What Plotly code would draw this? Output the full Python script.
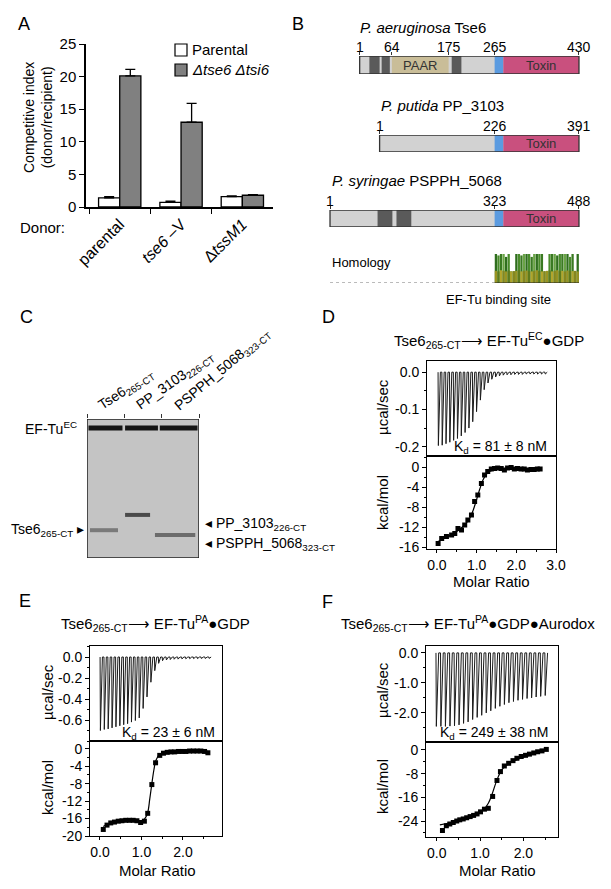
import plotly.graph_objects as go

W, H = 611, 889
FONT = "Liberation Sans, Arial, Helvetica, sans-serif"

# ---------------- Panel A data ----------------
donors = ["parental", "<i>tse6</i> \u2013V", "\u0394<i>tssM1</i>"]
parental_ci = [1.4, 0.7, 1.6]
parental_err = [0.2, 0.2, 0.1]
mutant_ci = [20.1, 13.0, 1.8]
mutant_err = [1.0, 2.9, 0.1]
series_names = ["Parental", "<i>\u0394tse6 \u0394tsi6</i>"]

# ---------------- Panel B data ----------------
tse6_len, tse6_split = 430, 265
tse6_dom_start = [20, 44, 64, 181, 265, 282]
tse6_dom_end = [40, 60, 175, 200, 282, 430]
tse6_dom_kind = ["dark", "dark", "paar", "dark", "link", "toxin"]
tse6_ticks = [1, 64, 175, 265, 430]

pp_len, pp_split = 391, 226
pp_dom_start = [226, 243]
pp_dom_end = [243, 391]
pp_dom_kind = ["link", "toxin"]
pp_ticks = [1, 226, 391]

ps_len, ps_split = 488, 323
ps_dom_start = [94, 131, 323, 340]
ps_dom_end = [123, 160, 340, 488]
ps_dom_kind = ["dark", "dark", "link", "toxin"]
ps_ticks = [1, 323, 488]

hom_bin = 5
hom_identity = [1, .95, 1, 1, .9, 1, .4, .4, 1, 1, .95, 1, 1, 1, .9, 1, 1, 1, 1,
                .4, .4, 1, 1, 1, .95, 1, 1, 1, 1, .9, 1, .4, 1]
hom_similarity = [.42, .4, .44, .42, .4, .43, .4, .41, .42, .44, .4, .42, .43, .41, .4, .42, .44,
                  .42, .4, .41, .42, .43, .4, .42, .44, .41, .42, .4, .43, .42, .41, .42, .4]

# ---------------- Panel C data ----------------
gel_lanes = [0, 1, 2]
eftu_pos = 0.065
eftu_x0 = [0.04, 1.02, 1.95]
eftu_x1 = [0.95, 1.90, 2.96]
target_pos = [0.80, 0.69, 0.835]
target_x0 = [0.08, 1.02, 1.82]
target_x1 = [0.83, 1.69, 2.90]

# ---------------- Panel D data ----------------
d_peaks = [-0.197, -0.196, -0.192, -0.188, -0.183, -0.178, -0.171, -0.162, -0.150, -0.133,
           -0.106, -0.075, -0.047, -0.029, -0.019, -0.013, -0.010, -0.008, -0.007, -0.007,
           -0.006, -0.006, -0.006, -0.005, -0.005, -0.005, -0.005, -0.005, -0.005]
d_ratio = [0.03, 0.12, 0.24, 0.37, 0.45, 0.53, 0.62, 0.70, 0.78, 0.87, 0.95, 1.03, 1.12, 1.20,
           1.28, 1.37, 1.45, 1.53, 1.62, 1.70, 1.78, 1.87, 1.95, 2.03, 2.12, 2.20, 2.28, 2.37,
           2.45, 2.53, 2.60]
d_heat = [-15.3, -14.3, -13.9, -13.6, -13.3, -12.3, -12.6, -11.6, -10.6, -9.6, -6.9, -5.6,
          -3.3, -1.6, -0.9, -0.4, -0.3, -0.2, -0.3, -0.6, -0.2, -0.1, -0.4, -0.3, -0.4, -0.4,
          -0.6, -0.5, -0.5, -0.4, -0.4]
d_fit_x = [0.03, 0.2, 0.4, 0.6, 0.75, 0.85, 0.92, 1.0, 1.08, 1.16, 1.25, 1.35, 1.5, 1.8, 2.6]
d_fit_y = [-14.9, -14.2, -13.4, -12.3, -11.1, -9.9, -8.5, -6.5, -4.4, -2.6, -1.4, -0.8, -0.5,
           -0.4, -0.4]

# ---------------- Panel E data ----------------
e_peaks = [-0.70, -0.69, -0.685, -0.675, -0.665, -0.655, -0.645, -0.635, -0.62, -0.605, -0.58,
           -0.49, -0.38, -0.24, -0.13, -0.06, -0.035, -0.028, -0.024, -0.021, -0.02, -0.018,
           -0.017, -0.016, -0.015, -0.015, -0.014, -0.014, -0.013]
e_ratio = [0.08, 0.17, 0.26, 0.35, 0.44, 0.53, 0.62, 0.71, 0.80, 0.89, 0.98, 1.07, 1.15, 1.25,
           1.34, 1.44, 1.53, 1.62, 1.71, 1.80, 1.89, 1.98, 2.07, 2.16, 2.25, 2.34, 2.43, 2.52,
           2.60]
e_heat = [-18.5, -17.5, -17.0, -16.8, -16.6, -16.5, -16.4, -16.4, -16.4, -16.5, -16.9, -16.6,
          -14.8, -8.2, -3.2, -1.5, -1.0, -0.8, -0.7, -0.7, -0.6, -0.6, -0.6, -0.5, -0.5, -0.5,
          -0.5, -0.6, -0.9]
e_fit_x = [0.08, 0.2, 0.35, 0.5, 0.7, 0.9, 1.0, 1.08, 1.15, 1.2, 1.25, 1.3, 1.35, 1.45, 1.6,
           2.0, 2.6]
e_fit_y = [-17.8, -17.2, -16.9, -16.7, -16.6, -16.6, -16.5, -16.0, -14.6, -11.5, -8.0, -4.8,
           -2.6, -1.2, -0.8, -0.6, -0.6]

# ---------------- Panel F data ----------------
f_peaks = [-2.45, -2.45, -2.45, -2.44, -2.43, -2.40, -2.35, -2.30, -2.22, -2.15, -2.08, -2.00,
           -1.93, -1.85, -1.78, -1.72, -1.66, -1.62, -1.58, -1.55, -1.52, -1.50, -1.47, -1.45,
           -1.42]
f_ratio = [0.13, 0.22, 0.30, 0.38, 0.46, 0.53, 0.61, 0.69, 0.77, 0.85, 0.93, 1.01, 1.10, 1.19,
           1.29, 1.39, 1.47, 1.56, 1.66, 1.76, 1.85, 1.95, 2.05, 2.14, 2.24, 2.33, 2.43, 2.53]
f_heat = [-27.2, -25.6, -25.0, -24.5, -24.0, -23.6, -23.3, -22.9, -22.5, -22.1, -21.6, -20.9,
          -20.0, -19.7, -15.7, -10.3, -7.3, -5.4, -4.5, -3.6, -2.8, -2.2, -1.8, -1.4, -1.0,
          -0.6, -0.3, 0.2]
f_fit_x = [0.07, 0.3, 0.6, 0.9, 1.08, 1.19, 1.27, 1.39, 1.5, 1.62, 1.8, 2.0, 2.2, 2.4, 2.53]
f_fit_y = [-25.3, -24.6, -23.4, -21.9, -20.2, -18.0, -15.2, -10.1, -6.7, -5.1, -3.6, -2.4,
           -1.5, -0.6, 0.1]


# ---------------- helpers ----------------
def dx(a, b):
    return [a / W, b / W]


def dy(top, bottom):
    return [1 - bottom / H, 1 - top / H]


def px(x):
    return x / W


def py(y):
    return 1 - y / H


annotations = []
shapes = []


def ann(text, x, y, size=14, xanchor="center", yanchor="middle", angle=0, color="black",
        xref="paper", yref="paper"):
    annotations.append(dict(
        text=text, x=px(x) if xref == "paper" else x, y=py(y) if yref == "paper" else y,
        xref=xref, yref=yref, showarrow=False, xanchor=xanchor, yanchor=yanchor,
        textangle=angle, font=dict(size=size, color=color, family=FONT)))


fig = go.Figure()
layout = dict(
    width=W, height=H, margin=dict(l=0, r=0, t=0, b=0, pad=0, autoexpand=False),
    paper_bgcolor="white", plot_bgcolor="white",
    font=dict(family=FONT, color="black", size=14),
    barmode="overlay", showlegend=False,
)
noax = dict(visible=False, showgrid=False, zeroline=False)

# ---------------- Panel A ----------------
A_FILL = ["white", "#808080"]
for name, vals, errs, fill, off in zip(series_names, [parental_ci, mutant_ci],
                                       [parental_err, mutant_err], A_FILL, [-0.345, 0]):
    fig.add_trace(go.Bar(x=donors, y=vals, offset=off, width=0.345, name=name,
                         marker=dict(color=fill, line=dict(color="black", width=1.3)),
                         error_y=dict(type="data", symmetric=False, array=errs,
                                      arrayminus=[0] * len(errs), color="black",
                                      thickness=1.3, width=5),
                         xaxis="x", yaxis="y"))
layout["xaxis"] = dict(domain=dx(86, 273), range=[-0.55, 2.5], type="category",
                       tickson="boundaries", ticks="outside", ticklen=5, tickcolor="black",
                       showline=True, linecolor="black", linewidth=1.5, showgrid=False,
                       zeroline=False, tickangle=-45, tickfont=dict(size=16), anchor="y")
layout["yaxis"] = dict(domain=dy(44, 207), range=[0, 25], dtick=5, ticks="outside", ticklen=5,
                       tickcolor="black", showline=True, linecolor="black", linewidth=1.5,
                       showgrid=False, zeroline=False, tickfont=dict(size=15), anchor="x")
ann("A", 24, 24, 18)
ann("Competitive index<br>(donor/recipient)", 38, 118, 14, angle=-90)
ann("Donor:", 18, 227, 15, xanchor="left")
# legend (key boxes + labels)
for i, (name, fill) in enumerate(zip(series_names, A_FILL)):
    yc = 50 + 20 * i
    shapes.append(dict(type="rect", xref="paper", yref="paper", x0=px(175), x1=px(187),
                       y0=py(yc + 6), y1=py(yc - 6), fillcolor=fill,
                       line=dict(color="black", width=1.2)))
    ann(name, 190, yc, 15, xanchor="left")

# ---------------- Panel B ----------------
C_LIGHT, C_DARK, C_PAAR, C_LINK, C_TOX = "#d2d2d2", "#5a5a5a", "#c9bd98", "#5b9be0", "#c9507e"
kind_color = {"dark": C_DARK, "paar": C_PAAR, "link": C_LINK, "toxin": C_TOX}
xB = dict(domain=dx(329, 580), range=[-324, 167], showgrid=False, zeroline=False,
          showline=False)
rows = [
    ("2", 56, 74, tse6_len, tse6_split, tse6_dom_start, tse6_dom_end, tse6_dom_kind, tse6_ticks),
    ("3", 135, 152, pp_len, pp_split, pp_dom_start, pp_dom_end, pp_dom_kind, pp_ticks),
    ("4", 210, 227, ps_len, ps_split, ps_dom_start, ps_dom_end, ps_dom_kind, ps_ticks),
]
for k, top, bot, length, split, starts, ends, kinds, ticks in rows:
    xa, ya = "x" + k, "y" + k
    fig.add_trace(go.Bar(y=[0], x=[length - 1], base=[1 - split], orientation="h", width=1,
                         marker=dict(color=C_LIGHT, line=dict(width=0)), showlegend=False,
                         cliponaxis=False, xaxis=xa, yaxis=ya, hoverinfo="skip"))
    for s, e, kd in zip(starts, ends, kinds):
        fig.add_trace(go.Bar(y=[0], x=[e - s], base=[s - split], orientation="h", width=1,
                             marker=dict(color=kind_color[kd], line=dict(width=0)),
                             showlegend=False, cliponaxis=False, xaxis=xa, yaxis=ya,
                             hoverinfo="skip"))
        if kd == "paar":
            ann("PAAR", (s + e) / 2 - split, 0, 13, xref=xa, yref=ya, color="#333333")
        if kd == "toxin":
            ann("Toxin", (s + e) / 2 - split, 0, 13, xref=xa, yref=ya, color="#333333")
    fig.add_trace(go.Bar(y=[0], x=[length - 1], base=[1 - split], orientation="h", width=1,
                         marker=dict(color="rgba(0,0,0,0)", line=dict(color="#333333", width=1.3)),
                         showlegend=False, cliponaxis=False, xaxis=xa, yaxis=ya,
                         hoverinfo="skip"))
    layout["xaxis" + k] = dict(xB, side="top", anchor=ya, tickmode="array",
                               tickvals=[t - split for t in ticks], showticklabels=False,
                               ticks="outside", ticklen=3, tickcolor="#333333")
    layout["yaxis" + k] = dict(noax, domain=dy(top, bot), range=[-0.5, 0.5], anchor=xa)
    for t in ticks:
        ann(str(t), t - split, top + 1, 14, yanchor="bottom", xref=xa)

ann("<i>P. aeruginosa</i> Tse6", 358, 28, 15, xanchor="left")
ann("<i>P. putida</i> PP_3103", 379, 105, 15, xanchor="left")
ann("<i>P. syringae</i> PSPPH_5068", 330, 180, 15, xanchor="left")
ann("B", 298, 24, 18)

# homology
hom_x = [hom_bin * (i + 0.5) for i in range(len(hom_identity))]
greens = ["#2f6e1e", "#4a8c2c", "#3a7a22", "#6aa446"]
yellows = ["#9a9422", "#5f7a1c", "#b2a52c", "#86861e"]
fig.add_trace(go.Bar(x=hom_x, y=hom_identity, width=hom_bin * 0.9,
                     marker=dict(color=[greens[i % 4] for i in range(len(hom_x))],
                                 line=dict(width=0)),
                     showlegend=False, xaxis="x5", yaxis="y5", hoverinfo="skip"))
fig.add_trace(go.Bar(x=hom_x, y=hom_similarity, width=hom_bin * 0.9,
                     marker=dict(color=[yellows[i % 4] for i in range(len(hom_x))],
                                 line=dict(width=0)),
                     showlegend=False, xaxis="x5", yaxis="y5", hoverinfo="skip"))
fig.add_trace(go.Scatter(x=[1 - ps_split, 0], y=[0, 0], mode="lines",
                         line=dict(color="#777777", width=1.2, dash="dot"),
                         showlegend=False, xaxis="x5", yaxis="y5", hoverinfo="skip"))
fig.add_trace(go.Scatter(x=[0, ps_len - ps_split], y=[0, 0], mode="lines",
                         line=dict(color="#222222", width=1.2),
                         showlegend=False, xaxis="x5", yaxis="y5", hoverinfo="skip"))
fig.add_trace(go.Scatter(x=[-6, -6, 20, 20], y=[-0.05, -0.25, -0.25, -0.05], mode="lines",
                         line=dict(color="#222222", width=1.2), cliponaxis=False,
                         showlegend=False, xaxis="x5", yaxis="y5", hoverinfo="skip"))
layout["xaxis5"] = dict(xB, visible=False, anchor="y5")
layout["yaxis5"] = dict(noax, domain=dy(254, 283), range=[0, 1], anchor="x5")
ann("Homology", 330, 262, 13, xanchor="left")
ann("EF-Tu binding site", 498, 299, 13)

# ---------------- Panel C (gel) ----------------
layout["xaxis6"] = dict(domain=dx(87, 199), range=[0, 3], side="top", anchor="y6",
                        tickmode="array", tickvals=[0, 1, 2, 3], ticks="outside", ticklen=4,
                        tickcolor="#333333", showticklabels=False, showline=False,
                        showgrid=False, zeroline=False)
layout["yaxis6"] = dict(noax, domain=dy(419, 558), range=[1, 0], anchor="x6")
shapes.append(dict(type="rect", xref="x6", yref="y6", x0=0, x1=3, y0=0, y1=1,
                   fillcolor="#c4c4c4", line=dict(color="#222222", width=1.5), layer="below"))
for x0, x1 in zip(eftu_x0, eftu_x1):
    fig.add_trace(go.Scatter(x=[x0, x1], y=[eftu_pos, eftu_pos], mode="lines",
                             line=dict(color="#151515", width=5), showlegend=False,
                             xaxis="x6", yaxis="y6", hoverinfo="skip"))
band_colors = ["#7a7a7a", "#4a4a4a", "#6c6c6c"]
for x0, x1, pos, col in zip(target_x0, target_x1, target_pos, band_colors):
    fig.add_trace(go.Scatter(x=[x0, x1], y=[pos, pos], mode="lines",
                             line=dict(color=col, width=4), showlegend=False,
                             xaxis="x6", yaxis="y6", hoverinfo="skip"))
fig.add_trace(go.Scatter(x=[-0.2, 0], y=[eftu_pos, eftu_pos], mode="lines", cliponaxis=False,
                         line=dict(color="#222222", width=1.2), showlegend=False,
                         xaxis="x6", yaxis="y6", hoverinfo="skip"))
ann("C", 26, 317, 18)
ann("EF-Tu<sup>EC</sup>", 79, 428, 14, xanchor="right")
ann("Tse6<sub>265-CT</sub> \u25b8", 86, 530, 14, xanchor="right")
ann("\u25c2 PP_3103<sub>226-CT</sub>", 203, 524, 14, xanchor="left")
ann("\u25c2 PSPPH_5068<sub>323-CT</sub>", 203, 544, 14, xanchor="left")
ann("Tse6<sub>265-CT</sub>", 92, 417, 14, xanchor="left", yanchor="bottom", angle=-33)
ann("PP_3103<sub>226-CT</sub>", 130, 417, 14, xanchor="left", yanchor="bottom", angle=-35)
ann("PSPPH_5068<sub>323-CT</sub>", 168, 418, 14, xanchor="left", yanchor="bottom", angle=-40)

# ---------------- ITC panels ----------------
base_ax = dict(showgrid=False, zeroline=False, showline=True, mirror=True, linecolor="black",
               linewidth=1, ticks="outside", tickcolor="black", ticklen=4, tickwidth=1,
               tickfont=dict(size=14))


def raw_xy(peaks):
    xs, ys = [], []
    for i, p in enumerate(peaks):
        xs += [i, i + 0.08, i + 0.6]
        ys += [0, p, 0]
    xs.append(len(peaks) - 0.4)
    ys.append(0)
    return xs, ys


def itc(kt, kb, peaks, rx, ry, fx_, fy_, xdom, top_dom, bot_dom, t_rng, ytop_rng, ytop_ticks,
        ytop_minor, xb_rng, xb_ticks, xb_minor, yb_rng, yb_ticks, yb_minor):
    xs, ys = raw_xy(peaks)
    fig.add_trace(go.Scatter(x=xs, y=ys, mode="lines", line=dict(color="#1a1a1a", width=1),
                             showlegend=False, xaxis="x" + kt, yaxis="y" + kt,
                             hoverinfo="skip"))
    fig.add_trace(go.Scatter(x=fx_, y=fy_, mode="lines", line=dict(color="black", width=1.2),
                             line_shape="spline", showlegend=False, xaxis="x" + kb,
                             yaxis="y" + kb, hoverinfo="skip"))
    fig.add_trace(go.Scatter(x=rx, y=ry, mode="markers",
                             marker=dict(symbol="square", size=5, color="black"),
                             showlegend=False, xaxis="x" + kb, yaxis="y" + kb,
                             hoverinfo="skip"))
    layout["xaxis" + kt] = dict(base_ax, domain=xdom, range=t_rng, ticks="",
                                showticklabels=False, anchor="y" + kt)
    layout["yaxis" + kt] = dict(base_ax, domain=top_dom, range=ytop_rng, tickmode="array",
                                tickvals=ytop_ticks,
                                ticktext=["%.1f" % v for v in ytop_ticks],
                                minor=dict(dtick=ytop_minor, tick0=0, ticks="outside",
                                           ticklen=2, tickcolor="black"),
                                anchor="x" + kt)
    layout["xaxis" + kb] = dict(base_ax, domain=xdom, range=xb_rng, tickmode="array",
                                tickvals=xb_ticks, ticktext=["%.1f" % v for v in xb_ticks],
                                ticklen=3,
                                minor=dict(dtick=xb_minor, tick0=0, ticks="outside",
                                           ticklen=2, tickcolor="black"),
                                anchor="y" + kb)
    layout["yaxis" + kb] = dict(base_ax, domain=bot_dom, range=yb_rng, tickmode="array",
                                tickvals=yb_ticks, ticktext=["%d" % v for v in yb_ticks],
                                minor=dict(dtick=yb_minor, tick0=0, ticks="outside",
                                           ticklen=2, tickcolor="black"),
                                anchor="x" + kb)


itc("7", "8", d_peaks, d_ratio, d_heat, d_fit_x, d_fit_y, dx(427, 556), dy(361, 456),
    dy(456, 549), [-2.9, 30.9], [-0.225, 0.03], [0.0, -0.1, -0.2], 0.05,
    [-0.25, 3.0], [0.0, 1.0, 2.0, 3.0], 0.5, [-16.4, 2.2], [0, -4, -8, -12, -16], 2)
itc("9", "10", e_peaks, e_ratio, e_heat, e_fit_x, e_fit_y, dx(90, 222), dy(646, 741),
    dy(741, 836), [-2.6, 31.4], [-0.8, 0.105], [0.0, -0.2, -0.4, -0.6], 0.1,
    [-0.24, 2.94], [0.0, 1.0, 2.0], 0.5, [-20, 1.8], [0, -4, -8, -12, -16, -20], 2)
itc("11", "12", f_peaks, f_ratio, f_heat, f_fit_x, f_fit_y, dx(426, 558), dy(646, 742),
    dy(742, 837), [-2.2, 26.9], [-2.97, 0.23], [0.0, -1.0, -2.0], 0.5,
    [-0.25, 2.8], [0.0, 1.0, 2.0], 0.5, [-29.4, 2.7], [0, -8, -16, -24], 4)

ARROW = "\u27f6"
DOT = "\u25cf"
ann("D", 328, 317, 18)
ann("Tse6<sub>265-CT</sub>" + ARROW + " EF-Tu<sup>EC</sup>" + DOT + "GDP", 489, 340, 15)
ann("\u00b5cal/sec", 382, 407, 15, angle=-90)
ann("kcal/mol", 382, 503, 15, angle=-90)
ann("Molar Ratio", 491, 581, 15)
ann("K<sub>d</sub> = 81 \u00b1 8 nM", 549, 447, 14, xanchor="right")

ann("E", 25, 601, 18)
ann("Tse6<sub>265-CT</sub>" + ARROW + " EF-Tu<sup>PA</sup>" + DOT + "GDP", 155, 623, 15)
ann("\u00b5cal/sec", 47, 692, 15, angle=-90)
ann("kcal/mol", 47, 788, 15, angle=-90)
ann("Molar Ratio", 157, 870, 15)
ann("K<sub>d</sub> = 23 \u00b1 6 nM", 217, 733, 14, xanchor="right")

ann("F", 327, 602, 18)
ann("Tse6<sub>265-CT</sub>" + ARROW + " EF-Tu<sup>PA</sup>" + DOT + "GDP" + DOT + "Aurodox",
    468, 623, 15)
ann("\u00b5cal/sec", 382, 690, 15, angle=-90)
ann("kcal/mol", 382, 787, 15, angle=-90)
ann("Molar Ratio", 497, 870, 15)
ann("K<sub>d</sub> = 249 \u00b1 38 nM", 550, 733, 14, xanchor="right")

layout["annotations"] = annotations
layout["shapes"] = shapes
fig.update_layout(**layout)
fig.write_html("out.html", config={"displayModeBar": False},
               post_script="document.body.style.margin='0px';"
                           "document.body.style.padding='0px';")
